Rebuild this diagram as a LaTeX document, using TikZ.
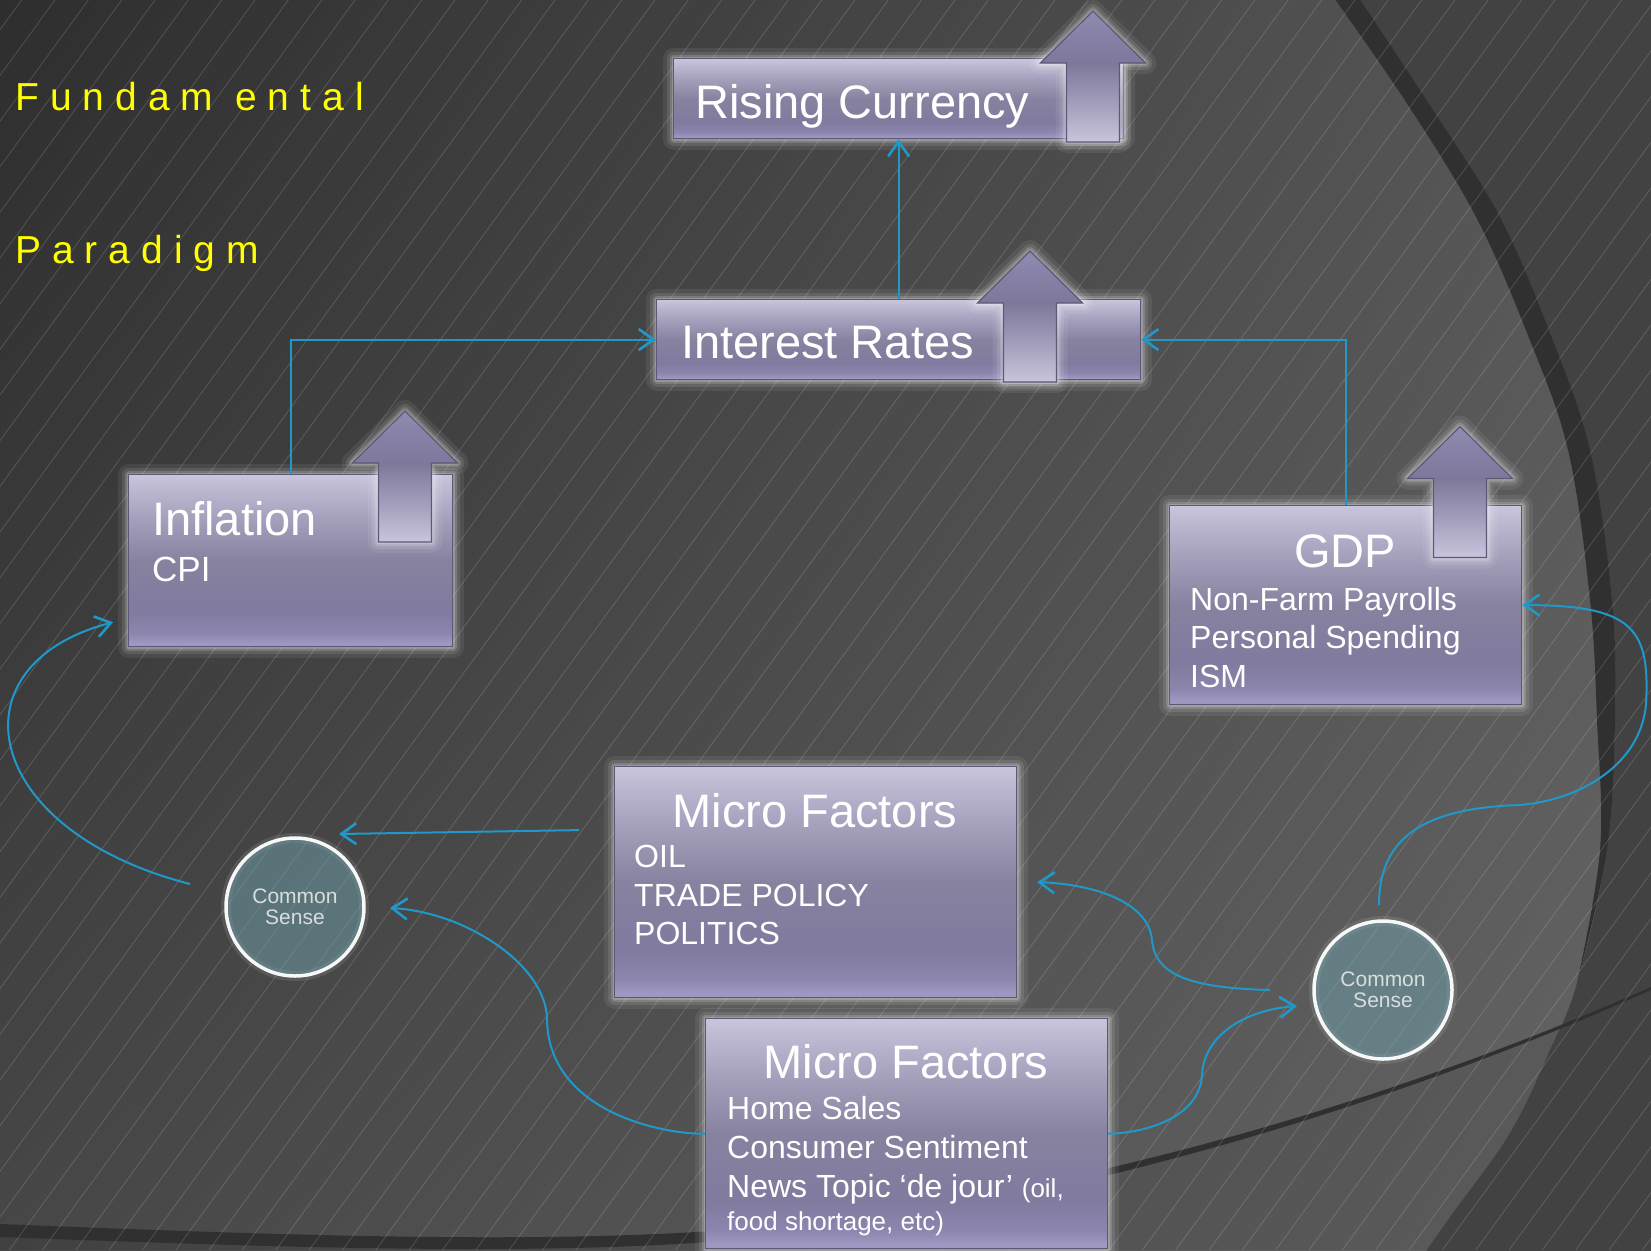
\documentclass[tikz,border=0pt]{standalone}
\usepackage{fontspec}
\setmainfont{Liberation Sans}
\usetikzlibrary{arrows.meta,calc,shadings}

\definecolor{bgUL}{HTML}{2E2E2E}
\definecolor{bgUR}{HTML}{585858}
\definecolor{bgLL}{HTML}{474747}
\definecolor{bgLR}{HTML}{646464}
\definecolor{bgOut}{HTML}{424242}
\definecolor{bandc}{HTML}{303030}
\definecolor{bxA}{HTML}{9D97C2}
\definecolor{bxB}{HTML}{8C86AE}
\definecolor{bxC}{HTML}{807B9F}
\definecolor{bxD}{HTML}{87829F}
\definecolor{bxE}{HTML}{A5A0BC}
\definecolor{bxF}{HTML}{C9C5DC}
\definecolor{arA}{HTML}{C9C5DD}
\definecolor{arB}{HTML}{A29DBA}
\definecolor{arC}{HTML}{7E799B}
\definecolor{arD}{HTML}{8580A5}
\definecolor{arE}{HTML}{908BB0}
\definecolor{bxline}{HTML}{5B5878}
\definecolor{connc}{RGB}{32,152,200}
\definecolor{csfill}{RGB}{112,162,174}
\definecolor{cstext}{HTML}{D8DEDE}
\definecolor{titley}{HTML}{FFFF00}

\pgfdeclareverticalshading{boxshade}{100bp}{color(0bp)=(bxA); color(25bp)=(bxA); color(26bp)=(bxA); color(29bp)=(bxB); color(35bp)=(bxC); color(50bp)=(bxD); color(62.5bp)=(bxE); color(75bp)=(bxF); color(100bp)=(bxF)}
\pgfdeclareverticalshading{arrowshade}{100bp}{color(0bp)=(arA); color(25bp)=(arA); color(40bp)=(arB); color(55bp)=(arC); color(65bp)=(arD); color(75bp)=(arE); color(100bp)=(arE)}

\newcommand\LSp[1]{\LSpA#1\relax}
\def\LSpA#1{\ifx#1\relax\else#1\kern11pt\expandafter\LSpA\fi}

\newcommand\UpArr[2]{%
  \shade[uparrowstyle] (#1,#2) -- ++(52.5,52) -- ++(-26,0) -- ++(0,79) -- ++(-53,0) -- ++(0,-79) -- ++(-26,0) -- cycle;}

\begin{document}
\begin{tikzpicture}[x=1pt,y=-1pt,
  glowbox/.style={preaction={draw=white,draw opacity=0.07,line width=22pt,line join=round},
                  preaction={draw=white,draw opacity=0.10,line width=14pt,line join=round},
                  preaction={draw=white,draw opacity=0.16,line width=8pt,line join=round},
                  preaction={draw=white,draw opacity=0.20,line width=4pt,line join=round}},
  box/.style={glowbox,draw=bxline,line width=1.2pt,shade,shading=boxshade,inner sep=0pt,anchor=north west},
  uparrowstyle/.style={glowbox,draw=bxline,line width=1.2pt,shading=arrowshade},
  csnode/.style={circle,minimum size=138pt,inner sep=0pt,fill=csfill,fill opacity=0.5,text opacity=1,
                 draw=white,draw opacity=0.95,line width=3.5pt,text=cstext,align=center,
                 font=\fontsize{21}{21}\selectfont,
                 preaction={draw=white,draw opacity=0.10,line width=10pt}},
  txt/.style={text=white,inner sep=0pt,anchor=base west},
  ttl/.style={txt,font=\fontsize{47}{56}\selectfont},
  itm/.style={txt,font=\fontsize{32}{38}\selectfont},
  yel/.style={text=titley,inner sep=0pt,anchor=base west,font=\fontsize{39}{46}\selectfont},
  conn/.style={draw=connc,line width=2pt,-{Straight Barb[length=15pt,width=21pt,line width=2.6pt]}},
  hatch/.style={draw=white,draw opacity=0.14,line width=0.9pt}
]
\useasboundingbox (0,0) rectangle (1651,1250);

% ---------- background ----------
\begin{scope}
\clip (0,0) rectangle (1651,1250);
\shade[upper left=bgUL,upper right=bgUR,lower left=bgLL,lower right=bgLR] (0,0) rectangle (1651,1250);
\fill[black,opacity=0.07] (0,1230) .. controls (300,1242) and (600,1253) .. (800,1228) .. controls (1100,1190) and (1400,1100) .. (1651,988) -- (1651,1250) -- (0,1250) -- cycle;
\fill[bgOut] plot[smooth,tension=0.6] coordinates {(1357,-5) (1433,110) (1500,217) (1550,333) (1590,450) (1612,600) (1615,720) (1607,850) (1577,983) (1550,1050) (1510,1133) (1450,1217) (1420,1260)} -- (1660,1260) -- (1660,-5) -- cycle;
\fill[bandc] plot[smooth,tension=0.6] coordinates {(1357,-5) (1433,110) (1500,217) (1550,333) (1590,450) (1612,600) (1615,720) (1607,850) (1577,983)}
  -- plot[smooth,tension=0.6] coordinates {(1577,983) (1600,850) (1597,720) (1590,600) (1568,450) (1527,333) (1476,217) (1408,105) (1332,-5)} -- cycle;
\fill[bandc] (0,1224) .. controls (300,1236) and (600,1247) .. (800,1223) .. controls (1100,1187) and (1400,1098) .. (1651,987)
  -- (1651,990) .. controls (1400,1102) and (1100,1194) .. (800,1233) .. controls (600,1259) and (300,1248) .. (0,1237) -- cycle;
\foreach \k in {-24,...,54}
  \draw[hatch] ({-124.1+33.33*\k},1250) -- ++(912.4,-1250);
\end{scope}

% ---------- title ----------
\node[yel] (tfund) at (15,110) {\LSp{Fundam}\kern11pt\LSp{ental}};
\node[yel] (tpara) at (15,263) {\LSp{Paradigm}};

% ---------- boxes ----------
\node[box,minimum width=450pt,minimum height=80pt] (rc) at (673,58) {};
\node[box,minimum width=484pt,minimum height=80pt] (ir) at (656,299) {};
\node[box,minimum width=324pt,minimum height=172pt] (infl) at (128,474) {};
\node[box,minimum width=352pt,minimum height=199pt] (gdp) at (1169,505) {};
\node[box,minimum width=402pt,minimum height=231pt] (mf1) at (614,766) {};
\node[box,minimum width=402pt,minimum height=230pt] (mf2) at (705,1018) {};

% ---------- up arrows ----------
\UpArr{1093}{11}
\UpArr{1030}{251}
\UpArr{405}{411}
\UpArr{1460}{426.5}

% ---------- common sense ----------
\node[csnode] (csl) at (295,907) {Common\\Sense};
\node[csnode] (csr) at (1383,990) {Common\\Sense};

% ---------- texts ----------
\node[ttl] (rct) at (695,118) {Rising Currency};
\node[ttl] (irt) at (681,358) {Interest Rates};
\node[ttl] (inflt) at (152,535) {Inflation};
\node[txt,font=\fontsize{35}{42}\selectfont] (cpit) at (152,581) {CPI};
\node[ttl,anchor=base] (gdpt) at (1345,567) {GDP};
\node[itm] (gdpa) at (1190,610) {Non-Farm Payrolls};
\node[itm] (gdpb) at (1190,648.5) {Personal Spending};
\node[itm] (gdpc) at (1190,687) {ISM};
\node[ttl,anchor=base] (mf1t) at (815,827) {Micro Factors};
\node[itm] (mf1a) at (634,867) {OIL};
\node[itm] (mf1b) at (634,906) {TRADE POLICY};
\node[itm] (mf1c) at (634,944) {POLITICS};
\node[ttl,anchor=base] (mf2t) at (906,1078) {Micro Factors};
\node[itm] (mf2a) at (727,1119) {Home Sales};
\node[itm] (mf2b) at (727,1158) {Consumer Sentiment};
\node[itm] (mf2c) at (727,1197) {News Topic ‘de jour’ {\fontsize{26}{30}\selectfont (oil,}};
\node[txt,font=\fontsize{26}{30}\selectfont] (mf2d) at (727,1230) {food shortage, etc)};

% ---------- connectors ----------
\draw[conn] (ir.north) -- (rc.south);
\draw[conn] (infl.north) |- (ir.west);
\draw[conn] (gdp.north) |- (ir.east);

\coordinate (cslout) at ($(csl.center)+(-105,-23)$);
\coordinate (inflin) at ($(infl.south west)+(-15,-25)$);
\draw[conn] (cslout) .. controls (-20,830) and (-50,665) .. (inflin);

\coordinate (mf1out) at ($(mf1.west)+(-35,-52)$);
\coordinate (cslin1) at ($(csl.center)+(44,-73)$);
\draw[conn] (mf1out) -- (cslin1);

\coordinate (cslin2) at ($(csl.center)+(95,1)$);
\draw[conn] (mf2.west) .. controls (670,1135) and (549,1115) .. (547,1020) .. controls (547,965) and (465,912) .. (cslin2);

\coordinate (csrout1) at ($(csr.center)+(-113,0)$);
\coordinate (mf1in) at ($(mf1.east)+(20,0)$);
\draw[conn] (csrout1) .. controls (1190,988) and (1155,975) .. (1152,940) .. controls (1148,900) and (1090,884) .. (mf1in);

\coordinate (csrin) at ($(csr.center)+(-86,16)$);
\draw[conn] (mf2.east) .. controls (1150,1133) and (1200,1115) .. (1202,1075) .. controls (1204,1035) and (1245,1010) .. (csrin);

\coordinate (csrout2) at ($(csr.center)+(-4,-85)$);
\draw[conn] (csrout2) .. controls (1379,840) and (1420,808) .. (1520,805) .. controls (1580,800) and (1640,765) .. (1646,705) .. controls (1650,630) and (1635,605) .. (gdp.east);
\end{tikzpicture}
\end{document}
